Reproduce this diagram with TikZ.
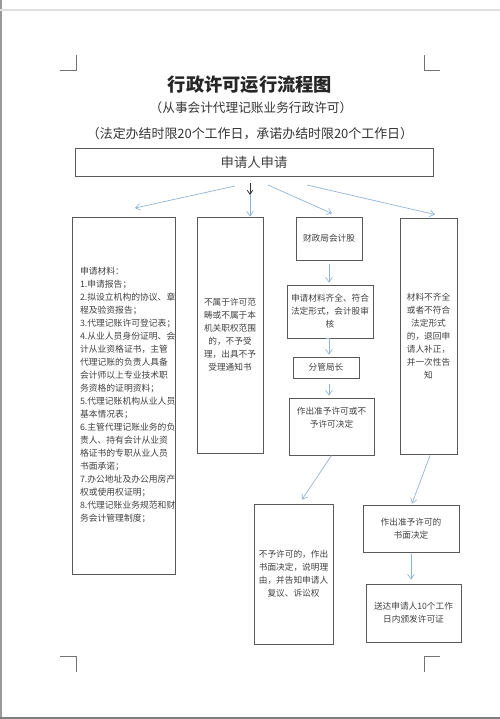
\documentclass[tikz,border=0pt]{standalone}
\usepackage{fontspec}
\setmainfont{Noto Sans CJK SC}
\usetikzlibrary{positioning, arrows.meta, calc}
\definecolor{flowblue}{RGB}{140,178,215}

\begin{document}
\begin{tikzpicture}[x=0.75pt, y=-0.75pt, ->, >={Straight Barb[length=3.5pt, width=5pt]}]
    \tikzset{
        box/.style={
                rectangle, draw=black!65, line width=0.7pt, inner sep=1pt,
                align=center, text=black!75, font=\fontsize{6.5}{9.8}\selectfont
            },
        flow/.style={->, draw=flowblue, line width=0.5pt},
        crop/.style={-, draw=black!55, line width=0.6pt}
    }
    \useasboundingbox (0,0) rectangle (500,719);

    % page edges and crop marks
    \draw[-, black!40, line width=1.5pt] (1,0) -- (1,719);
    \draw[-, black!12, line width=0.8pt] (0,10) -- (500,10);
    \draw[-, black!50, line width=1.5pt] (0,717.5) -- (500,717.5);
    \draw[crop] (60,70) -- (76,70) -- (76,55);
    \draw[crop] (440,70) -- (424,70) -- (424,55);
    \draw[crop] (60,656) -- (76,656) -- (76,672);
    \draw[crop] (440,656) -- (424,656) -- (424,672);

    % Headings
    \node[text=black!85] (title) at (250,85) {\bfseries\fontsize{13.7}{16}\selectfont 行政许可运行流程图};
    \node[text=black!80] (sub) at (251,108) {\fontsize{9.5}{12}\selectfont （从事会计代理记账业务行政许可）};
    \node[text=black!80] (limit) at (250,134) {\fontsize{9.7}{12}\selectfont （法定办结时限20个工作日，承诺办结时限20个工作日）};

    % Boxes
    \node[box, minimum width=268.5pt, minimum height=21pt, font=\fontsize{10}{12}\selectfont] (apply) at (254,162) {申请人申请};

    \node[box, minimum width=77.25pt, minimum height=267.75pt, align=left, inner xsep=6pt,
          text width=65.25pt, font=\fontsize{6.6}{9.75}\selectfont] (materials) at (123.5,395.5) {%
        申请材料：\\1.申请报告；\\2.拟设立机构的协议、章\\程及验资报告；\\3.代理记账许可登记表；\\%
        4.从业人员身份证明、会\\计从业资格证书，主管\\代理记账的负责人具备\\会计师以上专业技术职\\%
        务资格的证明资料；\\5.代理记账机构从业人员\\基本情况表；\\6.主管代理记账业务的负\\%
        责人、持有会计从业资\\格证书的专职从业人员\\书面承诺；\\7.办公地址及办公用房产\\%
        权或使用权证明；\\8.代理记账业务规范和财\\务会计管理制度；\\[14pt]};

    \node[box, minimum width=49.5pt, minimum height=177pt] (reject) at (230,335)
        {不属于许可范\\畴或不属于本\\机关职权范围\\的，不予受\\理，出具不予\\受理通知书};

    \node[box, minimum width=49.5pt, minimum height=32.25pt] (bureau) at (329,238.5) {财政局会计股};
    \node[box, minimum width=64.5pt, minimum height=39.75pt] (review) at (330,311.5)
        {申请材料齐全、符合\\法定形式，会计股审\\核};
    \node[box, minimum width=49.5pt, minimum height=15.75pt] (chief) at (326,367.5) {分管局长};
    \node[box, minimum width=63.75pt, minimum height=42.75pt] (decide) at (331.5,426.5)
        {作出准予许可或不\\予许可决定\\[4pt]};

    \node[box, minimum width=42.75pt, minimum height=177pt] (incomplete) at (428.5,336)
        {材料不齐全\\或者不符合\\法定形式\\的，退回申\\请人补正，\\并一次性告\\知};

    \node[box, minimum width=59.25pt, minimum height=105pt] (deny) at (293.5,574)
        {不予许可的，作出\\书面决定，说明理\\由，并告知申请人\\复议、诉讼权};
    \node[box, minimum width=72pt, minimum height=35.25pt] (grant) at (411,528.5)
        {作出准予许可的\\书面决定};
    \node[box, minimum width=71.25pt, minimum height=43.5pt] (issue) at (413.5,613)
        {送达申请人10个工作\\日内颁发许可证};

    % Fork below the application
    \coordinate (fork) at (250,183);
    \coordinate (forkEnd) at (250,195);
    \coordinate (forkL) at (235,186);
    \coordinate (forkR) at (268,185);
    \coordinate (forkRR) at (307,185);
    \coordinate (tipMat) at (135,208);

    \draw[-{Straight Barb[length=3pt, width=4pt]}, black!80, line width=0.6pt] (fork) -- (forkEnd);
    \draw[flow] (forkEnd) -- (forkEnd |- reject.north);
    \draw[flow] (forkL) -- (tipMat);
    \draw[flow] (forkR) -- ($(bureau.north)+(3,-3)$);
    \draw[flow] (forkRR) -- ($(incomplete.north)+(6.5,-3)$);

    % Review chain
    \draw[flow, shorten <=3pt, shorten >=1.5pt] (bureau.south) -- (bureau.south |- review.north);
    \draw[flow, shorten <=3pt, shorten >=1.5pt] (review.south) -- (review.south -| bureau.south) -- (bureau.south |- chief.north);
    \draw[flow, shorten <=4pt, shorten >=1.5pt] (bureau.south |- chief.south) -- (bureau.south |- decide.north);

    % Outcomes
    \draw[flow] (decide.south) -- ($(deny.north)+(8.5,-4)$);
    \draw[flow] ($(incomplete.south)+(1.5,1)$) -- ($(grant.north)+(1,-1)$);
    \draw[flow, shorten <=1pt, shorten >=3pt] (grant.south) -- (grant.south |- issue.north);
\end{tikzpicture}
\end{document}
